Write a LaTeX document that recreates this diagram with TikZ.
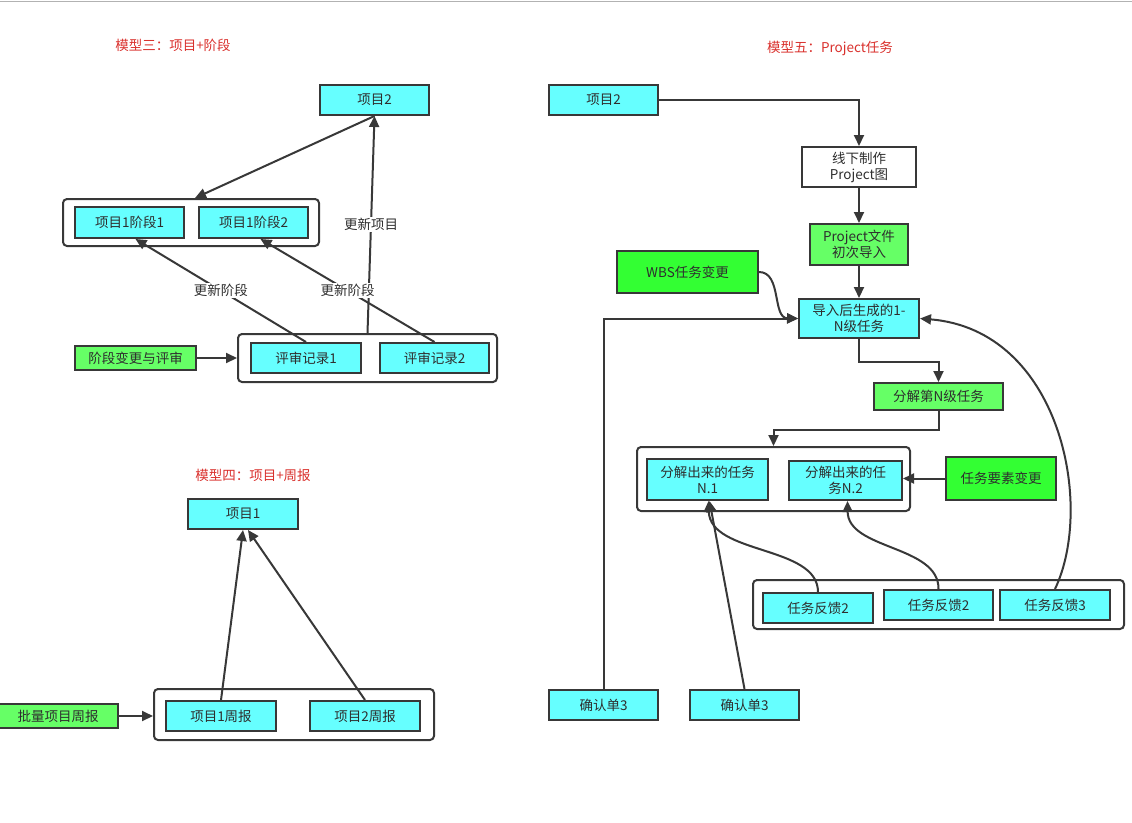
\documentclass[tikz,border=0pt]{standalone}
\usepackage{fontspec}
\setmainfont{Noto Sans CJK SC}
\usetikzlibrary{arrows.meta,calc}
\definecolor{cyanf}{HTML}{66FFFF}
\definecolor{greenf}{HTML}{66FF66}
\definecolor{brightg}{HTML}{33FF33}
\definecolor{edge}{HTML}{383838}
\definecolor{txt}{HTML}{2E2E2E}
\definecolor{titlered}{HTML}{D9302C}
\newcommand\mkbox[7]{\node[#1, minimum width={#4-#2}, minimum height={#5-#3}] (#6) at ({(#2+#4)/2},{(#3+#5)/2}) {#7};}
\tikzset{
  base/.style={draw=edge, line width=2pt, inner sep=1pt, align=center, text=txt,
    font=\fontsize{13.5pt}{16pt}\selectfont},
  cyanbox/.style={base, fill=cyanf},
  greenbox/.style={base, fill=greenf},
  brightbox/.style={base, fill=brightg},
  whitebox/.style={base, fill=white},
  holder/.style={draw=edge, line width=2pt, rounded corners=4pt, fill=white, inner sep=0pt},
  arr/.style={draw=edge, line width=2pt, -{Triangle[length=11pt,width=10pt]}},
  lab/.style={fill=white, inner sep=1pt, text=txt, font=\fontsize{13.5pt}{16pt}\selectfont},
  ttl/.style={text=titlered, font=\fontsize{13.5pt}{16pt}\selectfont, inner sep=0pt}
}
\begin{document}
\begin{tikzpicture}[x=1pt,y=-1pt]
\useasboundingbox (0,0) rectangle (1132,822);
\draw[color=black!30, line width=1pt] (0,1) -- (1132,1);

% ---------------- Model 3 ----------------
\node[ttl] (t3) at (173,45) {模型三：项目+阶段};
\mkbox{cyanbox}{320}{85}{429}{115}{p3b}{项目2}
\mkbox{holder}{63}{199}{319}{246}{c1}{}
\mkbox{cyanbox}{75}{207}{184}{238}{s1}{项目1阶段1}
\mkbox{cyanbox}{199}{207}{308}{238}{s2}{项目1阶段2}
\mkbox{holder}{238}{334}{497}{382}{c2}{}
\mkbox{cyanbox}{251}{343}{361}{373}{r1}{评审记录1}
\mkbox{cyanbox}{380}{343}{489}{373}{r2}{评审记录2}
\mkbox{greenbox}{75}{346}{196}{370}{jd}{阶段变更与评审}

\draw[arr] (p3b.south) -- ([xshift=4pt]c1.north);
\draw[arr] (c2.north) -- node[lab, pos=0.5] {更新项目} (p3b.south);
\draw[arr] (r1.north) -- node[lab, pos=0.5] {更新阶段} ([xshift=6pt]s1.south);
\draw[arr] (r2.north) -- node[lab, pos=0.5] {更新阶段} ([xshift=7pt]s2.south);
\draw[arr] (jd.east) -- (jd.east -| c2.west);

% ---------------- Model 4 ----------------
\node[ttl] (t4) at (253,475) {模型四：项目+周报};
\mkbox{cyanbox}{188}{499}{298}{529}{p1}{项目1}
\mkbox{holder}{154}{689}{434}{740}{c4}{}
\mkbox{cyanbox}{166}{701}{276}{731}{w1}{项目1周报}
\mkbox{cyanbox}{310}{701}{420}{731}{w2}{项目2周报}
\mkbox{greenbox}{-2}{704}{118}{728}{pl}{批量项目周报}

\draw[arr] (w1.north) -- (p1.south);
\draw[arr] (w2.north) -- ([xshift=5pt]p1.south);
\draw[arr] (pl.east) -- (pl.east -| c4.west);

% ---------------- Model 5 ----------------
\node[ttl] (t5) at (830,48) {模型五：Project任务};
\mkbox{cyanbox}{549}{85}{658}{115}{q2}{项目2}
\mkbox{whitebox}{802}{147}{916}{187}{xz}{线下制作\\Project图}
\mkbox{greenbox}{810}{224}{908}{265}{pf}{Project文件\\初次导入}
\mkbox{brightbox}{617}{251}{758}{293}{wbs}{WBS任务变更}
\mkbox{cyanbox}{799}{299}{919}{338}{dr}{导入后生成的1-\\N级任务}
\mkbox{greenbox}{874}{383}{1003}{410}{fen}{分解第N级任务}
\mkbox{holder}{637}{447}{910}{511}{c5}{}
\mkbox{cyanbox}{647}{459}{768}{500}{n1}{分解出来的任务\\N.1}
\mkbox{cyanbox}{789}{461}{902}{500}{n2}{分解出来的任\\务N.2}
\mkbox{brightbox}{946}{457}{1056}{500}{ys}{任务要素变更}
\mkbox{holder}{753}{580}{1124}{629}{c6}{}
\mkbox{cyanbox}{763}{593}{873}{623}{fb1}{任务反馈2}
\mkbox{cyanbox}{884}{590}{993}{620}{fb2}{任务反馈2}
\mkbox{cyanbox}{1000}{590}{1110}{620}{fb3}{任务反馈3}
\mkbox{cyanbox}{549}{690}{658}{720}{cf1}{确认单3}
\mkbox{cyanbox}{690}{690}{799}{720}{cf2}{确认单3}

\draw[arr] (q2.east) -| (xz.north);
\draw[arr] (xz.south) -- (pf.north);
\draw[arr] (pf.south) -- (dr.north);
\draw[arr] (wbs.east) .. controls (782,272) and (772,318) .. (dr.west);
\draw[arr] (cf1.north) |- (dr.west);
\draw[arr] (fb3.north) .. controls (1095,505) and (1060,330) .. (dr.east);
\draw[arr] (dr.south) -- ++(0,23) -| (fen.north);
\draw[arr] (fen.south) -- ++(0,19) -| (c5.north);
\draw[arr] (ys.west) -- (ys.west -| n2.east);
\draw[arr] (fb1.north) .. controls (818,545) and (710,555) .. ([xshift=1pt]n1.south);
\draw[arr] (fb2.north) .. controls (939,545) and (848,550) .. ([xshift=2pt]n2.south);
\draw[arr] (cf2.north) -- ([xshift=2pt]n1.south);
\end{tikzpicture}
\end{document}
